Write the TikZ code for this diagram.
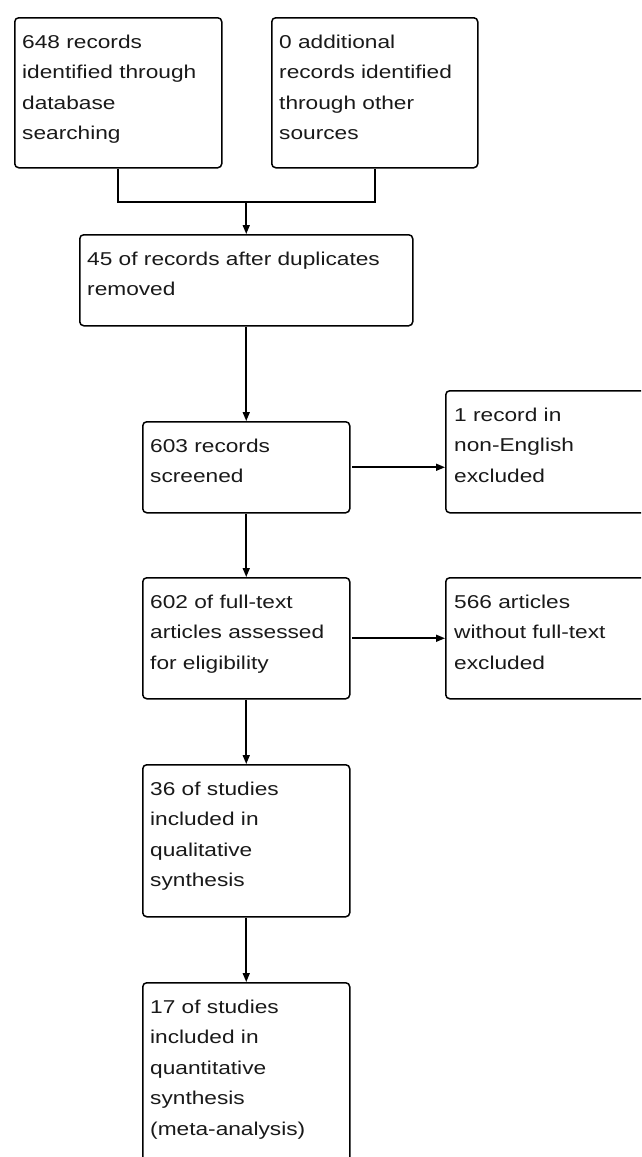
\documentclass[tikz,border=0pt]{standalone}
\usepackage{fontspec}
\newfontfamily\dfont[FakeStretch=1.22]{Liberation Sans}
\usetikzlibrary{arrows.meta,positioning}
\tikzset{
  box/.style={draw=black, line width=1.5pt, rounded corners=4pt, anchor=north west, inner sep=0pt},
  txt/.style={anchor=north west, inner sep=0pt, align=left, text=black!90,
    font=\dfont\fontsize{18.6}{30.5}\selectfont},
  conn/.style={draw=black, line width=1.6pt},
  arr/.style={conn, -{Triangle[length=9pt,width=7pt]}}
}
\newcommand{\fl}{\rule{0pt}{14pt}}
\begin{document}
\begin{tikzpicture}[x=1pt,y=-1pt]
\useasboundingbox (0,0) rectangle (641,1157);
\clip (0,0) rectangle (641,1157);
% boxes
\node[box, minimum width=207pt, minimum height=150pt] (A) at (14,17) {};
\node[box, minimum width=206pt, minimum height=150pt] (B) at (271,17) {};
\node[box, minimum width=333pt, minimum height=91pt] (C) at (79,234) {};
\node[box, minimum width=207pt, minimum height=91pt] (D) at (142,421) {};
\node[box, minimum width=210pt, minimum height=122pt] (E) at (445,390) {};
\node[box, minimum width=207pt, minimum height=121pt] (F) at (142,577) {};
\node[box, minimum width=210pt, minimum height=121pt] (G) at (445,577) {};
\node[box, minimum width=207pt, minimum height=152pt] (H) at (142,764) {};
\node[box, minimum width=207pt, minimum height=200pt] (I) at (142,982) {};
% texts
\node[txt] (At) at ([shift={(8,17)}]A.north west) {\fl648 records\\identified through\\database\\searching};
\node[txt] (Bt) at ([shift={(8,17)}]B.north west) {\fl0 additional\\records identified\\through other\\sources};
\node[txt] (Ct) at ([shift={(8,17)}]C.north west) {\fl45 of records after duplicates\\removed};
\node[txt] (Dt) at ([shift={(8,17)}]D.north west) {\fl603 records\\screened};
\node[txt] (Et) at ([shift={(9,17)}]E.north west) {\fl1 record in\\non-English\\excluded};
\node[txt] (Ft) at ([shift={(8,17)}]F.north west) {\fl602 of full-text\\articles assessed\\for eligibility};
\node[txt] (Gt) at ([shift={(9,17)}]G.north west) {\fl566 articles\\without full-text\\excluded};
\node[txt] (Ht) at ([shift={(8,17)}]H.north west) {\fl36 of studies\\included in\\qualitative\\synthesis};
\node[txt] (It) at ([shift={(8,17)}]I.north west) {\fl17 of studies\\included in\\quantitative\\synthesis\\(meta-analysis)};
% connectors
\coordinate (j) at (C.north |- 0,202);
\draw[conn] (A.south) -- (A.south |- j) -- (B.south |- j) -- (B.south);
\draw[arr] (j) -- (C.north);
\draw[arr] (C.south) -- (D.north);
\draw[arr] ([xshift=1.5pt]D.east) -- (D.east -| E.west);
\draw[arr] (D.south) -- (F.north);
\draw[arr] ([xshift=1.5pt]F.east) -- (F.east -| G.west);
\draw[arr] (F.south) -- (H.north);
\draw[arr] (H.south) -- (I.north);
\end{tikzpicture}
\end{document}
